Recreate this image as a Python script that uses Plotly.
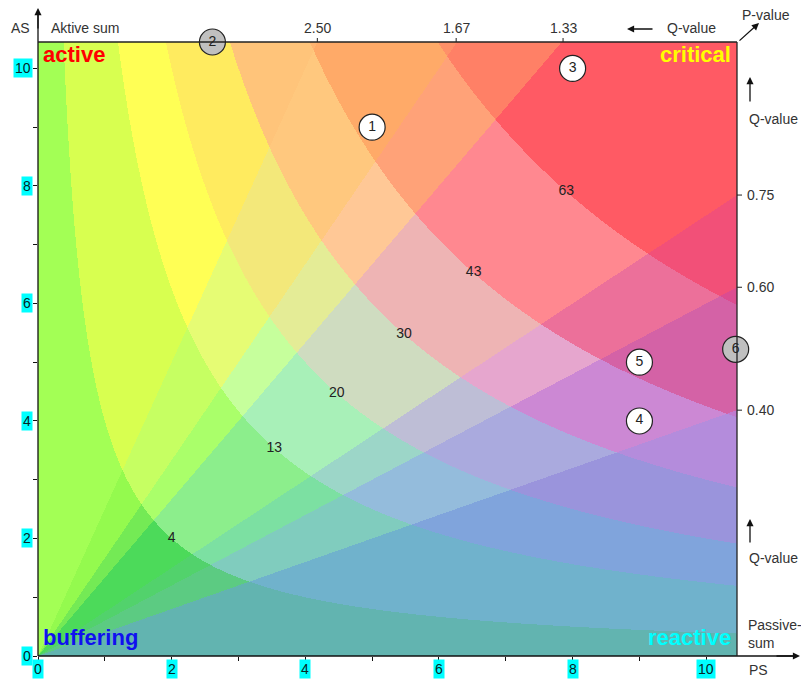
import numpy as np
import plotly.graph_objects as go

# ---------------- data ----------------
X_MAX = 10.46          # PS axis end
Y_MAX = 10.45          # AS axis end

P_EDGES = [4, 12.5, 20, 30, 42.5, 62.5]            # P-value borders (AS*PS)
P_LABELS = ["4", "13", "20", "30", "43", "63"]
Q_EDGES = [0.40, 0.60, 0.75, 1 / 0.75, 1 / 0.60, 2.50]   # Q-value borders (AS/PS)

Q_TOP_TICKS = [2.50, 1.67, 1.33]
Q_TOP_LABELS = ["2.50", "1.67", "1.33"]
Q_RIGHT_TICKS = [0.75, 0.60, 0.40]
Q_RIGHT_LABELS = ["0.75", "0.60", "0.40"]

AXIS_TICKS = list(range(0, 11))
AXIS_LABELS = [0, 2, 4, 6, 8, 10]

POINT_LABELS = ["1", "2", "3", "4", "5", "6"]
POINT_PS = [5.0, 2.61, 8.0, 9.0, 9.0, 10.44]
POINT_AS = [9.0, 10.45, 10.0, 4.0, 5.0, 5.22]
POINT_OUTSIDE = [False, True, False, False, False, True]

# colour of each zone: rows = P band (low -> high), cols = Q band (low -> high)
CELL_COLORS = [
    ["#62b4b0", "#5ccb82", "#52d26c", "#4cda5a", "#74ea55", "#94fa4e", "#a3ff55"],
    ["#70b2cc", "#80ccbe", "#7ce0a2", "#8cee8c", "#aaff6a", "#c6ff62", "#d8ff50"],
    ["#80a4dc", "#94bcdc", "#9cd6c8", "#a8f0b8", "#c6ff9c", "#e6fc74", "#ffff55"],
    ["#9a94dc", "#aaaade", "#bebed6", "#cfdcc0", "#e4ec96", "#f3e87a", "#ffeb5f"],
    ["#b48cdc", "#cc88d4", "#e6a6ce", "#eeb4b4", "#ffc896", "#ffc87e", "#ffc47a"],
    ["#c07ad0", "#d462a6", "#ec709a", "#ff8890", "#ffa278", "#ffaa68", "#ffb470"],
    ["#c86ab0", "#dc4c90", "#f25078", "#ff5a64", "#ff8066", "#ff9068", "#ff7a66"],
]

# ---------------- zone grid ----------------
NX, NY = 699, 614
xs = (np.arange(NX) + 0.5) * X_MAX / NX
ys = (np.arange(NY) + 0.5) * Y_MAX / NY
XX, YY = np.meshgrid(xs, ys)
P = XX * YY
Q = YY / XX
pi = np.searchsorted(np.array(P_EDGES), P, side="right")
qi = np.searchsorted(np.array(Q_EDGES), Q, side="right")
nq = len(Q_EDGES) + 1
z = (pi * nq + qi).astype(np.int16)

flat_colors = [c for row in CELL_COLORS for c in row]
n = len(flat_colors)
colorscale = []
for k, c in enumerate(flat_colors):
    colorscale.append([k / n, c])
    colorscale.append([(k + 1) / n, c])

fig = go.Figure()
fig.add_trace(go.Heatmap(
    z=z, x0=xs[0], dx=X_MAX / NX, y0=ys[0], dy=Y_MAX / NY,
    colorscale=colorscale, zmin=-0.5, zmax=n - 0.5, showscale=False,
    hoverinfo="skip", zsmooth=False,
))

FONT = "Liberation Sans, Arial, sans-serif"
TXT = "#333333"

# P-value labels on the diagonal
fig.add_trace(go.Scatter(
    x=[np.sqrt(p) for p in P_EDGES], y=[np.sqrt(p) for p in P_EDGES],
    text=P_LABELS, mode="text", textposition="middle center",
    textfont=dict(family=FONT, size=14, color="#222222"),
    hoverinfo="skip", showlegend=False,
))

# numbered points
fig.add_trace(go.Scatter(
    x=POINT_PS, y=POINT_AS, text=POINT_LABELS, mode="markers+text",
    textposition="middle center",
    marker=dict(size=26, color=["#c0c0c0" if o else "white" for o in POINT_OUTSIDE],
                line=dict(color="#222222", width=1.2)),
    textfont=dict(family=FONT, size=14, color="#222222"),
    cliponaxis=False, hoverinfo="skip", showlegend=False,
))

L, R, T, B = 38, 64, 42, 23
W, H = 801, 679
PW, PH = W - L - R, H - T - B


def px(xp):
    return (xp - L) / PW


def py(yp):
    return (H - B - yp) / PH


shapes = []
# axes lines
shapes.append(dict(type="line", xref="paper", yref="paper", x0=0, x1=0, y0=0, y1=py(12),
                   line=dict(color="#111111", width=1.3)))
shapes.append(dict(type="line", xref="paper", yref="paper", x0=0, x1=px(795), y0=0, y1=0,
                   line=dict(color="#111111", width=1.3)))
shapes.append(dict(type="line", xref="paper", yref="paper", x0=0, x1=1, y0=1, y1=1,
                   line=dict(color="#222222", width=1.3)))
shapes.append(dict(type="line", xref="paper", yref="paper", x0=1, x1=1, y0=0, y1=1,
                   line=dict(color="#222222", width=1.3)))
# Q ticks on top border
for q in Q_TOP_TICKS:
    shapes.append(dict(type="line", xref="x", yref="paper", x0=Y_MAX / q, x1=Y_MAX / q,
                       y0=1, y1=1 + 4 / PH, line=dict(color="#222222", width=1)))
# Q ticks on right border
for q in Q_RIGHT_TICKS:
    shapes.append(dict(type="line", xref="paper", yref="y", x0=1, x1=1 + 5 / PW,
                       y0=X_MAX * q, y1=X_MAX * q, line=dict(color="#222222", width=1)))

ann = []
# cyan tick labels
for v in AXIS_LABELS:
    ann.append(dict(xref="paper", yref="y", x=0, y=v, xanchor="right", yanchor="middle",
                    xshift=-5, text=str(v), showarrow=False, bgcolor="#00ffff", borderpad=1,
                    font=dict(family=FONT, size=14, color="#062626")))
    ann.append(dict(xref="x", yref="paper", x=v, y=0, xanchor="center", yanchor="top",
                    yshift=-3, text=str(v), showarrow=False, bgcolor="#00ffff", borderpad=1,
                    font=dict(family=FONT, size=14, color="#062626")))
# Q labels top
for q, lab in zip(Q_TOP_TICKS, Q_TOP_LABELS):
    ann.append(dict(xref="x", yref="paper", x=Y_MAX / q, y=py(28), xanchor="center",
                    yanchor="middle", text=lab, showarrow=False,
                    font=dict(family=FONT, size=14, color=TXT)))
# Q labels right
for q, lab in zip(Q_RIGHT_TICKS, Q_RIGHT_LABELS):
    ann.append(dict(xref="paper", yref="y", x=px(745), y=X_MAX * q, xanchor="left",
                    yanchor="middle", text=lab, showarrow=False,
                    font=dict(family=FONT, size=14, color=TXT)))


def label(xp, yp, text, anchor="left", size=14, color=TXT):
    ann.append(dict(xref="paper", yref="paper", x=px(xp), y=py(yp), xanchor=anchor,
                    yanchor="middle", text=text, showarrow=False, align="left",
                    font=dict(family=FONT, size=size, color=color)))


def arrow(x_tip, y_tip, x_tail, y_tail):
    ann.append(dict(xref="paper", yref="paper", x=px(x_tip), y=py(y_tip),
                    ax=x_tail - x_tip, ay=y_tail - y_tip, axref="pixel", ayref="pixel",
                    text="", showarrow=True, arrowhead=2, arrowsize=1.1, arrowwidth=1.3,
                    arrowcolor="#111111"))


label(20, 28, "AS", "center")
label(49, 28, "Aktive sum")
label(665, 28, "Q-value")
arrow(627, 29, 654, 29)
label(740, 15, "P-value")
arrow(759, 23, 738, 42)
arrow(750, 77, 750, 103)
label(747, 119, "Q-value")
arrow(750, 519, 750, 544)
label(747, 558, "Q-value")
label(746, 634, "Passive-<br>sum")
label(747, 670, "PS")
arrow(38, 8, 38, 30)
arrow(800, 656, 775, 656)

# corner words
ann.append(dict(xref="paper", yref="paper", x=px(41), y=py(69), xanchor="left", yanchor="bottom",
                text="<b>active</b>", showarrow=False,
                font=dict(family=FONT, size=22, color="#ff0000")))
ann.append(dict(xref="paper", yref="paper", x=px(733), y=py(69), xanchor="right", yanchor="bottom",
                text="<b>critical</b>", showarrow=False,
                font=dict(family=FONT, size=22, color="#ffff00")))
ann.append(dict(xref="paper", yref="paper", x=px(41), y=py(652), xanchor="left", yanchor="bottom",
                text="<b>buffering</b>", showarrow=False,
                font=dict(family=FONT, size=22, color="#1010f0")))
ann.append(dict(xref="paper", yref="paper", x=px(733), y=py(652), xanchor="right", yanchor="bottom",
                text="<b>reactive</b>", showarrow=False,
                font=dict(family=FONT, size=22, color="#00ffff")))

fig.update_layout(
    width=W, height=H, margin=dict(l=L, r=R, t=T, b=B),
    paper_bgcolor="white", plot_bgcolor="white", showlegend=False,
    shapes=shapes, annotations=ann,
    xaxis=dict(range=[0, X_MAX], showgrid=False, zeroline=False, showline=False,
               tickmode="array", tickvals=AXIS_TICKS, ticks="outside", ticklen=4,
               tickcolor="#111111", showticklabels=False, fixedrange=True),
    yaxis=dict(range=[0, Y_MAX], showgrid=False, zeroline=False, showline=False,
               tickmode="array", tickvals=AXIS_TICKS, ticks="outside", ticklen=4,
               tickcolor="#111111", showticklabels=False, fixedrange=True),
)

fig.write_html("out.html", config={"displayModeBar": False},
               post_script="document.body.style.margin='0';document.body.style.overflow='hidden';")
